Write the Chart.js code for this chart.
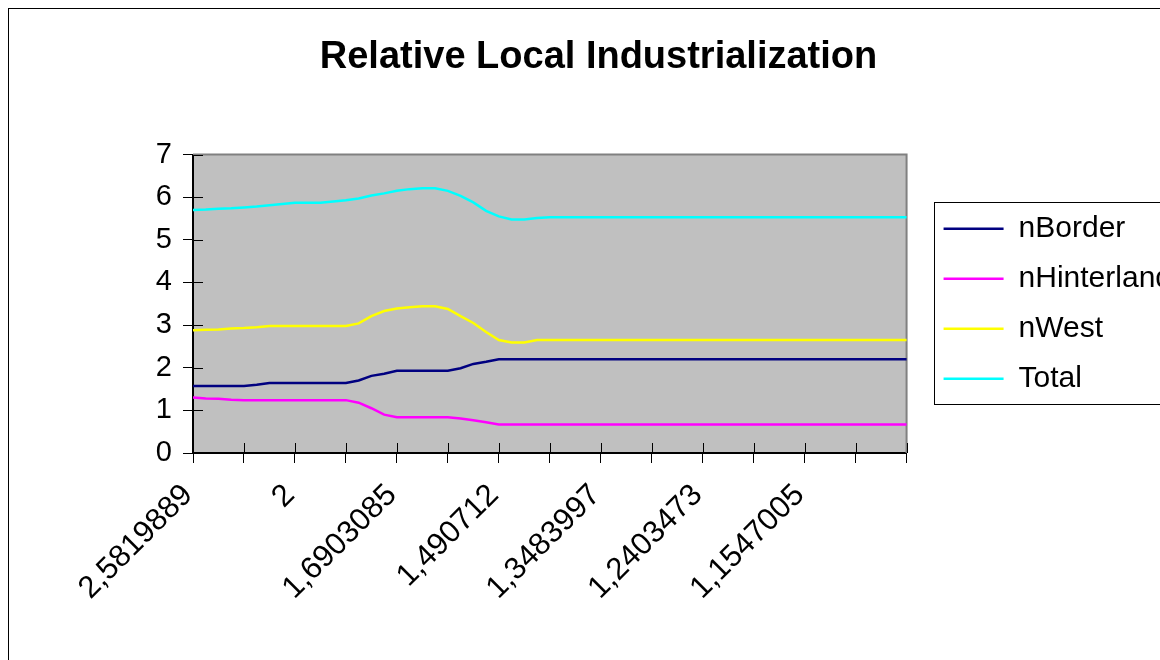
<!DOCTYPE html>
<html>
<head>
<meta charset="utf-8">
<script src="https://cdn.jsdelivr.net/npm/chart.js@4/dist/chart.umd.min.js"></script>
<style>
  html, body { margin: 0; padding: 0; background: #fff; overflow: hidden; }
  canvas { display: block; }
</style>
</head>
<body>
<canvas id="industryChart" width="1200" height="660"></canvas>
<script>
const xTickLabels = ["2,5819889", "2", "1,6903085", "1,490712", "1,3483997", "1,2403473", "1,1547005"];
const labelEvery = 8;
const tickEvery = 4;

const nBorder = [
  1.57, 1.57, 1.57, 1.57, 1.57, 1.60, 1.64, 1.64, 1.64, 1.64, 1.64, 1.64, 1.64, 1.70, 1.81, 1.86,
  1.93, 1.93, 1.93, 1.93, 1.93, 1.99, 2.09, 2.14, 2.20, 2.20, 2.20, 2.20, 2.20, 2.20, 2.20, 2.20,
  2.20, 2.20, 2.20, 2.20, 2.20, 2.20, 2.20, 2.20, 2.20, 2.20, 2.20, 2.20, 2.20, 2.20, 2.20, 2.20,
  2.20, 2.20, 2.20, 2.20, 2.20, 2.20, 2.20, 2.20, 2.20
];
const nHinterland = [
  1.30, 1.28, 1.27, 1.25, 1.24, 1.24, 1.24, 1.24, 1.24, 1.24, 1.24, 1.24, 1.24, 1.18, 1.05, 0.90,
  0.84, 0.84, 0.84, 0.84, 0.84, 0.81, 0.77, 0.72, 0.67, 0.67, 0.67, 0.67, 0.67, 0.67, 0.67, 0.67,
  0.67, 0.67, 0.67, 0.67, 0.67, 0.67, 0.67, 0.67, 0.67, 0.67, 0.67, 0.67, 0.67, 0.67, 0.67, 0.67,
  0.67, 0.67, 0.67, 0.67, 0.67, 0.67, 0.67, 0.67, 0.67
];
const nWest = [
  2.88, 2.89, 2.90, 2.92, 2.93, 2.95, 2.98, 2.98, 2.98, 2.98, 2.98, 2.98, 2.98, 3.04, 3.21, 3.33,
  3.39, 3.42, 3.44, 3.44, 3.38, 3.21, 3.05, 2.84, 2.65, 2.59, 2.59, 2.65, 2.65, 2.65, 2.65, 2.65,
  2.65, 2.65, 2.65, 2.65, 2.65, 2.65, 2.65, 2.65, 2.65, 2.65, 2.65, 2.65, 2.65, 2.65, 2.65, 2.65,
  2.65, 2.65, 2.65, 2.65, 2.65, 2.65, 2.65, 2.65, 2.65
];
const total = [
  5.70, 5.71, 5.73, 5.74, 5.76, 5.78, 5.81, 5.84, 5.87, 5.87, 5.87, 5.90, 5.93, 5.97, 6.04, 6.09,
  6.15, 6.19, 6.21, 6.21, 6.15, 6.03, 5.88, 5.68, 5.55, 5.48, 5.48, 5.51, 5.53, 5.53, 5.53, 5.53,
  5.53, 5.53, 5.53, 5.53, 5.53, 5.53, 5.53, 5.53, 5.53, 5.53, 5.53, 5.53, 5.53, 5.53, 5.53, 5.53,
  5.53, 5.53, 5.53, 5.53, 5.53, 5.53, 5.53, 5.53, 5.53
];

const categories = total.map((_, i) => (i % labelEvery === 0 ? (xTickLabels[i / labelEvery] || "") : ""));

const FONT = "'Liberation Sans', Arial, sans-serif";

// grey plot area, outer frame, grey top/right border and the inner half of the cross tick marks
const plotFrame = {
  id: "plotFrame",
  beforeDraw(chart) {
    const { ctx, chartArea: a } = chart;
    ctx.save();
    ctx.fillStyle = "#fff";
    ctx.fillRect(0, 0, chart.width, chart.height);
    ctx.strokeStyle = "#000";
    ctx.lineWidth = 1;
    ctx.strokeRect(8.5, 8.5, chart.width + 20, chart.height + 20);
    ctx.fillStyle = "#c0c0c0";
    ctx.fillRect(a.left, a.top, a.right - a.left, a.bottom - a.top);
    ctx.restore();
  },
  beforeDatasetsDraw(chart) {
    const { ctx, chartArea: a, scales } = chart;
    ctx.save();
    ctx.strokeStyle = "#808080";
    ctx.lineWidth = 2;
    ctx.beginPath();
    ctx.moveTo(a.left, a.top);
    ctx.lineTo(a.right, a.top);
    ctx.lineTo(a.right, a.bottom);
    ctx.stroke();

    ctx.strokeStyle = "#000";
    ctx.lineWidth = 1;
    ctx.beginPath();
    scales.y.ticks.forEach((t, i) => {
      const py = Math.round(scales.y.getPixelForTick(i)) + 0.5;
      ctx.moveTo(a.left, py);
      ctx.lineTo(a.left + 10, py);
    });
    scales.x.ticks.forEach((t, i) => {
      if (i % tickEvery !== 0) return;
      const px = Math.round(scales.x.getPixelForTick(i)) + 0.5;
      ctx.moveTo(px, a.bottom);
      ctx.lineTo(px, a.bottom - 10);
    });
    ctx.stroke();
    ctx.restore();
  },
  afterDraw(chart) {
    const boxes = chart.legend.legendHitBoxes;
    if (!boxes || !boxes.length) return;
    const first = boxes[0];
    const last = boxes[boxes.length - 1];
    const { ctx } = chart;
    ctx.save();
    ctx.strokeStyle = "#000";
    ctx.lineWidth = 1;
    const top = Math.round(first.top - 12) + 0.5;
    const left = Math.round(first.left - 10) + 0.5;
    const bottom = Math.round(last.top + last.height + 10) + 0.5;
    ctx.strokeRect(left, top, 400, bottom - top);
    ctx.restore();
  }
};

const seriesStyle = (label, data, color) => ({
  label: label,
  data: data,
  borderColor: color,
  backgroundColor: color,
  borderWidth: 2.5,
  pointRadius: 0,
  pointHoverRadius: 0,
  tension: 0,
  fill: false,
  yAxisID: "y"
});

new Chart(document.getElementById("industryChart"), {
  type: "line",
  data: {
    labels: categories,
    datasets: [
      seriesStyle("nBorder", nBorder, "#000080"),
      seriesStyle("nHinterland", nHinterland, "#ff00ff"),
      seriesStyle("nWest", nWest, "#ffff00"),
      seriesStyle("Total", total, "#00ffff")
    ]
  },
  options: {
    responsive: false,
    animation: false,
    devicePixelRatio: 1,
    // left/right padding keep the title centred where the original has it
    layout: { padding: { top: 0, left: 15, right: 18, bottom: 0 } },
    plugins: {
      title: {
        display: true,
        text: "Relative Local Industrialization",
        color: "#000",
        font: { family: FONT, size: 38, weight: "bold" },
        padding: { top: 35, bottom: 74 }
      },
      legend: {
        position: "right",
        align: "center",
        fullSize: false,
        labels: {
          color: "#000",
          font: { family: FONT, size: 30 },
          usePointStyle: true,
          pointStyle: "line",
          pointStyleWidth: 60,
          padding: 20
        }
      },
      tooltip: { enabled: false }
    },
    scales: {
      x: {
        type: "category",
        offset: false,
        grid: {
          display: true,
          drawOnChartArea: false,
          drawTicks: true,
          tickLength: 10,
          tickColor: (c) => (c.index % tickEvery === 0 ? "#000" : "rgba(0,0,0,0)")
        },
        border: { display: true, color: "#000", width: 2 },
        ticks: {
          autoSkip: false,
          minRotation: 45,
          maxRotation: 45,
          padding: 14,
          labelOffset: -5,
          color: "#000",
          font: { family: FONT, size: 31 }
        },
        afterFit(scale) { scale.height = 207; }
      },
      y: {
        position: "left",
        min: 0,
        max: 7,
        grid: {
          display: true,
          drawOnChartArea: false,
          drawTicks: true,
          tickLength: 10,
          tickColor: "#000"
        },
        border: { display: true, color: "#000", width: 2 },
        ticks: {
          stepSize: 1,
          padding: 11,
          color: "#000",
          font: { family: FONT, size: 29 }
        },
        afterFit(scale) { scale.width = 178; }
      },
      // hidden axis: only leaves the gap between the plot and the legend
      gap: {
        position: "right",
        display: false,
        afterFit(scale) { scale.width = 17; }
      }
    }
  },
  plugins: [plotFrame]
});
</script>
</body>
</html>
